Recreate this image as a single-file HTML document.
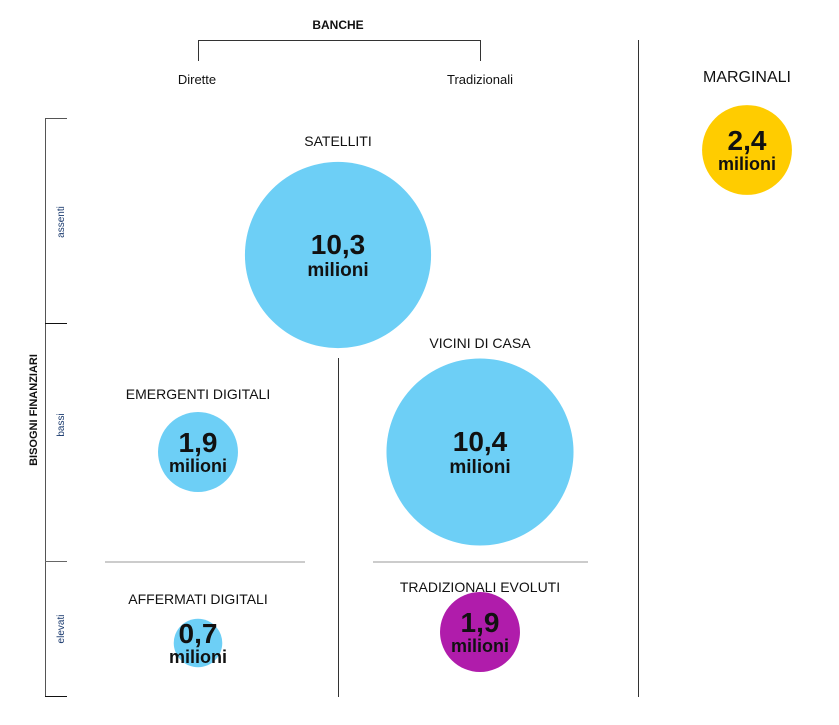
<!DOCTYPE html>
<html><head><meta charset="utf-8"><style>
html,body{margin:0;padding:0;background:#fff;}
svg{display:block;font-family:"Liberation Sans",sans-serif;}
</style></head><body>
<svg id="chart" width="839" height="725" viewBox="0 0 839 725">
  <text x="338" y="29" text-anchor="middle" font-size="12" font-weight="bold" fill="#111">BANCHE</text>
  <path d="M198.5 61 V40.5 H480.5 V61" fill="none" stroke="#333" stroke-width="1"/>
  <text x="197" y="84" text-anchor="middle" font-size="13" fill="#111">Dirette</text>
  <text x="480" y="84" text-anchor="middle" font-size="13" fill="#111">Tradizionali</text>

  <line x1="45.5" y1="118" x2="45.5" y2="697" stroke="#555"/>
  <line x1="45" y1="118.5" x2="67" y2="118.5" stroke="#555"/>
  <line x1="45" y1="323.5" x2="67" y2="323.5" stroke="#111"/>
  <line x1="45" y1="561.5" x2="67" y2="561.5" stroke="#666"/>
  <line x1="45" y1="696.5" x2="67" y2="696.5" stroke="#111"/>
  <text transform="translate(64,222) rotate(-90)" text-anchor="middle" font-size="10" fill="#1a3a6e">assenti</text>
  <text transform="translate(64,425) rotate(-90)" text-anchor="middle" font-size="10" fill="#1a3a6e">bassi</text>
  <text transform="translate(64,629) rotate(-90)" text-anchor="middle" font-size="10" fill="#1a3a6e">elevati</text>
  <text transform="translate(37,410) rotate(-90)" text-anchor="middle" font-size="11" font-weight="bold" fill="#111">BISOGNI FINANZIARI</text>

  <line x1="338.5" y1="358" x2="338.5" y2="697" stroke="#333"/>
  <line x1="638.5" y1="40" x2="638.5" y2="697" stroke="#333"/>
  <line x1="105" y1="562" x2="305" y2="562" stroke="#bbb" stroke-width="1.5"/>
  <line x1="373" y1="562" x2="588" y2="562" stroke="#bbb" stroke-width="1.5"/>
  <g id="bubbles"></g>
</svg>
<script>
const segments = ["SATELLITI","VICINI DI CASA","EMERGENTI DIGITALI","AFFERMATI DIGITALI","TRADIZIONALI EVOLUTI","MARGINALI"];
const values = [10.3, 10.4, 1.9, 0.7, 1.9, 2.4];
const valueLabels = ["10,3","10,4","1,9","0,7","1,9","2,4"];
const layout = [
  {cx:338, cy:255, ly:146, color:"#6dcff6", big:true},
  {cx:480, cy:452, ly:348, color:"#6dcff6", big:true},
  {cx:198, cy:452, ly:399, color:"#6dcff6", big:false},
  {cx:198, cy:643, ly:604, color:"#6dcff6", big:false},
  {cx:480, cy:632, ly:592, color:"#b01cab", big:false},
  {cx:747, cy:150, ly:82, color:"#ffcc00", big:false}
];
const rScale = v => 29 * Math.sqrt(v);
const g = document.getElementById('bubbles');
const NS = "http://www.w3.org/2000/svg";
segments.forEach((s,i)=>{
  const L = layout[i];
  const r = rScale(values[i]);
  const c = document.createElementNS(NS,'circle');
  c.setAttribute('cx',L.cx); c.setAttribute('cy',L.cy); c.setAttribute('r',r);
  c.setAttribute('fill',L.color);
  
  
  g.appendChild(c);
  const t = document.createElementNS(NS,'text');
  t.setAttribute('x',L.cx); t.setAttribute('y',L.ly);
  t.setAttribute('text-anchor','middle'); t.setAttribute('font-size', i===5?16:14); t.setAttribute('fill','#111');
  t.textContent = s;
  
  
  g.appendChild(t);
  const v = document.createElementNS(NS,'text');
  v.setAttribute('x',L.cx); v.setAttribute('y',L.cy+ (L.big?-1:0));
  v.setAttribute('text-anchor','middle'); v.setAttribute('font-size',28); v.setAttribute('font-weight','bold'); v.setAttribute('fill','#111');
  v.textContent = valueLabels[i];
  
  
  g.appendChild(v);
  const m = document.createElementNS(NS,'text');
  m.setAttribute('x',L.cx); m.setAttribute('y',L.cy+(L.big?21:20));
  m.setAttribute('text-anchor','middle'); m.setAttribute('font-size',L.big?19:18); m.setAttribute('font-weight','bold'); m.setAttribute('fill','#111');
  m.textContent = 'milioni';
  
  
  g.appendChild(m);
});
</script>
</body></html>
